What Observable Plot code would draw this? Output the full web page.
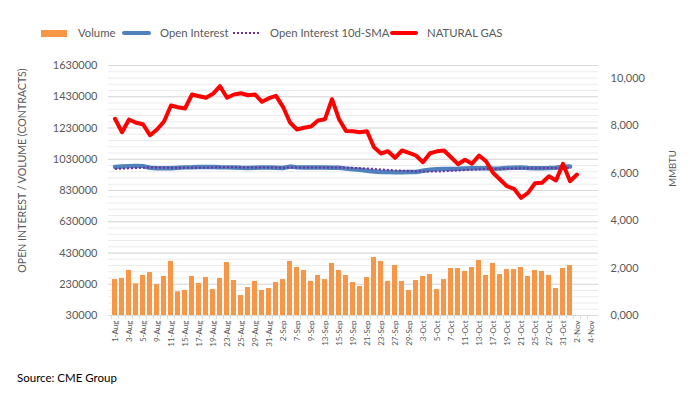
<!DOCTYPE html>
<html>
<head>
<meta charset="utf-8">
<script src="https://cdn.jsdelivr.net/npm/d3@7"></script>
<script src="https://cdn.jsdelivr.net/npm/@observablehq/plot@0.6"></script>
<style>
  html, body { margin: 0; padding: 0; background: #fff; }
  #wrap { position: relative; width: 698px; height: 398px; font-family: Lato, sans-serif; color: #595959; overflow: hidden; }
  .lg { position: absolute; font-size: 11.3px; line-height: 14px; top: 26px; white-space: nowrap; }
  .sw { position: absolute; }
  #chart { position: absolute; left: 0; top: 50px; width: 698px; height: 310px; }
  #chart svg { position: absolute; left: 0; top: 0; }
  #source { position: absolute; left: 17px; top: 371px; font-size: 11.5px; color: #000; white-space: nowrap; }
</style>
</head>
<body>
<div id="wrap">
  <div class="sw" style="left:41px;top:30px;width:26px;height:7px;background:#f79646"></div>
  <div class="lg" style="left:78px">Volume</div>
  <div class="sw" style="left:122px;top:31px;width:29px;height:4px;border-radius:2px;background:#4f81bd"></div>
  <div class="lg" style="left:160px">Open Interest</div>
  <div class="sw" style="left:233px;top:32px;width:26px;height:0;border-top:2px dotted #7030a0"></div>
  <div class="lg" style="left:270px">Open Interest 10d-SMA</div>
  <div class="sw" style="left:390px;top:31px;width:28px;height:4px;border-radius:2px;background:#ff0000"></div>
  <div class="lg" style="left:427px">NATURAL GAS</div>
  <div id="chart"></div>
  <div id="source">Source: CME Group</div>
</div>
<script>
const dates = [
  "1-Aug","2-Aug","3-Aug","4-Aug","5-Aug","8-Aug","9-Aug","10-Aug","11-Aug","12-Aug",
  "15-Aug","16-Aug","17-Aug","18-Aug","19-Aug","22-Aug","23-Aug","24-Aug","25-Aug","26-Aug",
  "29-Aug","30-Aug","31-Aug",
  "1-Sep","2-Sep","6-Sep","7-Sep","8-Sep","9-Sep","12-Sep","13-Sep","14-Sep","15-Sep","16-Sep",
  "19-Sep","20-Sep","21-Sep","22-Sep","23-Sep","26-Sep","27-Sep","28-Sep","29-Sep","30-Sep",
  "3-Oct","4-Oct","5-Oct","6-Oct","7-Oct","10-Oct","11-Oct","12-Oct","13-Oct","14-Oct",
  "17-Oct","18-Oct","19-Oct","20-Oct","21-Oct","24-Oct","25-Oct","26-Oct","27-Oct","28-Oct",
  "31-Oct","1-Nov","2-Nov","3-Nov","4-Nov"
];

const volume = [
  260000,267000,318000,233000,286000,305000,228000,280000,376000,182000,
  190000,280000,235000,273000,196000,267000,369000,254000,158000,209000,
  248000,190000,203000,241000,260000,376000,337000,318000,248000,286000,
  260000,363000,318000,286000,241000,216000,273000,401000,376000,248000,
  350000,248000,190000,254000,280000,292000,196000,260000,331000,331000,
  312000,337000,382000,286000,363000,292000,324000,324000,337000,280000,
  318000,312000,286000,203000,331000,350000
];

const openInterest = [
  981000,984000,986000,987000,986000,976000,973000,973000,973000,975000,
  978000,979000,981000,981000,981000,979000,978000,977000,975000,974000,
  976000,977000,977000,976000,974000,983000,978000,977000,977000,977000,
  977000,976000,975000,970000,966000,963000,957000,952000,949000,948000,
  946000,947000,948000,949000,956000,963000,966000,968000,968000,969000,
  971000,972000,973000,972000,969000,971000,974000,976000,977000,974000,
  973000,973000,974000,976000,982000,983000
];

const openInterestSMA = [
  968000,970000,972000,974000,976000,977000,977000,976000,976000,976000,
  976000,975000,976000,977000,978000,979000,979000,979000,978000,977000,
  977000,977000,977000,977000,976000,977000,977000,977000,977000,977000,
  977000,977000,977000,976000,975000,973000,971000,968000,965000,962000,
  959000,957000,955000,953000,952000,951000,951000,953000,956000,958000,
  961000,963000,965000,967000,968000,969000,970000,971000,972000,972000,
  973000,973000,974000,974000,975000,976000
];

const naturalGas = [
  8300,7734,8270,8131,8072,7608,7848,8186,8861,8790,
  8734,9325,9253,9186,9354,9675,9186,9325,9380,9295,
  9325,9017,9169,9270,8806,8143,7848,7920,7975,8228,
  8283,9127,8283,7790,7776,7734,7776,7101,6835,6932,
  6654,6962,6865,6751,6468,6848,6928,6962,6679,6384,
  6574,6401,6751,6511,6021,5738,5456,5346,4966,5177,
  5582,5599,5878,5696,6401,5667,5949
];

const leftTicks = [30000,230000,430000,630000,830000,1030000,1230000,1430000,1630000];
const rightTicks = [0,2000,4000,6000,8000,10000];
const leftDomain = [30000, 1630000];
const rightDomain = [0, 10549];
const leftTitle = "OPEN INTEREST / VOLUME (CONTRACTS)";
const rightTitle = "MMBTU";

const rows = (arr) => arr.map((v, i) => ({date: dates[i], v}));
const volRows = rows(volume);
const oiRows = rows(openInterest);
const smaRows = rows(openInterestSMA);
const gasRows = rows(naturalGas);
const labelSet = new Set(dates.filter((d, i) => i % 2 === 0));
const minorGrid = d3.range(leftDomain[0], leftDomain[1] + 1, 40000);

const common = {
  width: 698, height: 310,
  marginTop: 15, marginBottom: 45, marginLeft: 108, marginRight: 100,
  style: {fontFamily: "Lato, sans-serif", background: "transparent", color: "#595959", overflow: "visible"}
};
const xScale = {type: "band", domain: dates, paddingInner: 0.25, paddingOuter: 0.125};
const step = 490 / dates.length;

const p1 = Plot.plot({
  ...common,
  x: {...xScale},
  y: {domain: leftDomain},
  marks: [
    Plot.ruleY(minorGrid, {stroke: "#ebebeb", strokeWidth: 1}),
    Plot.ruleY(leftTicks, {stroke: "#d9d9d9", strokeWidth: 1}),
    Plot.barY(volRows, {x: "date", y1: leftDomain[0], y2: "v", fill: "#f79646"}),
    Plot.line(oiRows, {x: "date", y: "v", stroke: "#4f81bd", strokeWidth: 4.5}),
    Plot.line(smaRows, {x: "date", y: "v", stroke: "#7030a0", strokeWidth: 2, strokeDasharray: "2 2", strokeLinecap: "butt"}),
    Plot.axisY({ticks: leftTicks, tickSize: 0, tickPadding: 11, fontSize: 11,
      tickFormat: d => String(d), label: null}),
    Plot.text([leftTitle], {frameAnchor: "left", text: d => d, rotate: -90, dx: -86, dy: -20,
      textAnchor: "middle", fontSize: 10.6, fill: "#595959"}),
    Plot.axisX({tickSize: 4, tickFormat: () => "", dx: -step / 2, stroke: "#d9d9d9", label: null}),
    Plot.axisX({tickSize: 0, tickPadding: 5, tickRotate: -90, fontSize: 8,
      tickFormat: d => labelSet.has(d) ? d : "", label: null})
  ]
});

const p2 = Plot.plot({
  ...common,
  x: {...xScale, axis: null},
  y: {domain: rightDomain},
  marks: [
    Plot.line(gasRows, {x: "date", y: "v", stroke: "#ff0000", strokeWidth: 4}),
    Plot.axisY({anchor: "right", ticks: rightTicks, tickSize: 0, tickPadding: 12, fontSize: 11,
      tickFormat: d => { const s = String(d).padStart(4, "0"); return s.slice(0, -3) + "," + s.slice(-3); },
      label: null}),
    Plot.text([rightTitle], {frameAnchor: "right", text: d => d, rotate: -90, dx: 74, dy: -22,
      textAnchor: "middle", fontSize: 9.5, fill: "#595959"})
  ]
});

const chart = document.getElementById("chart");
chart.appendChild(p1);
chart.appendChild(p2);
</script>
</body>
</html>
